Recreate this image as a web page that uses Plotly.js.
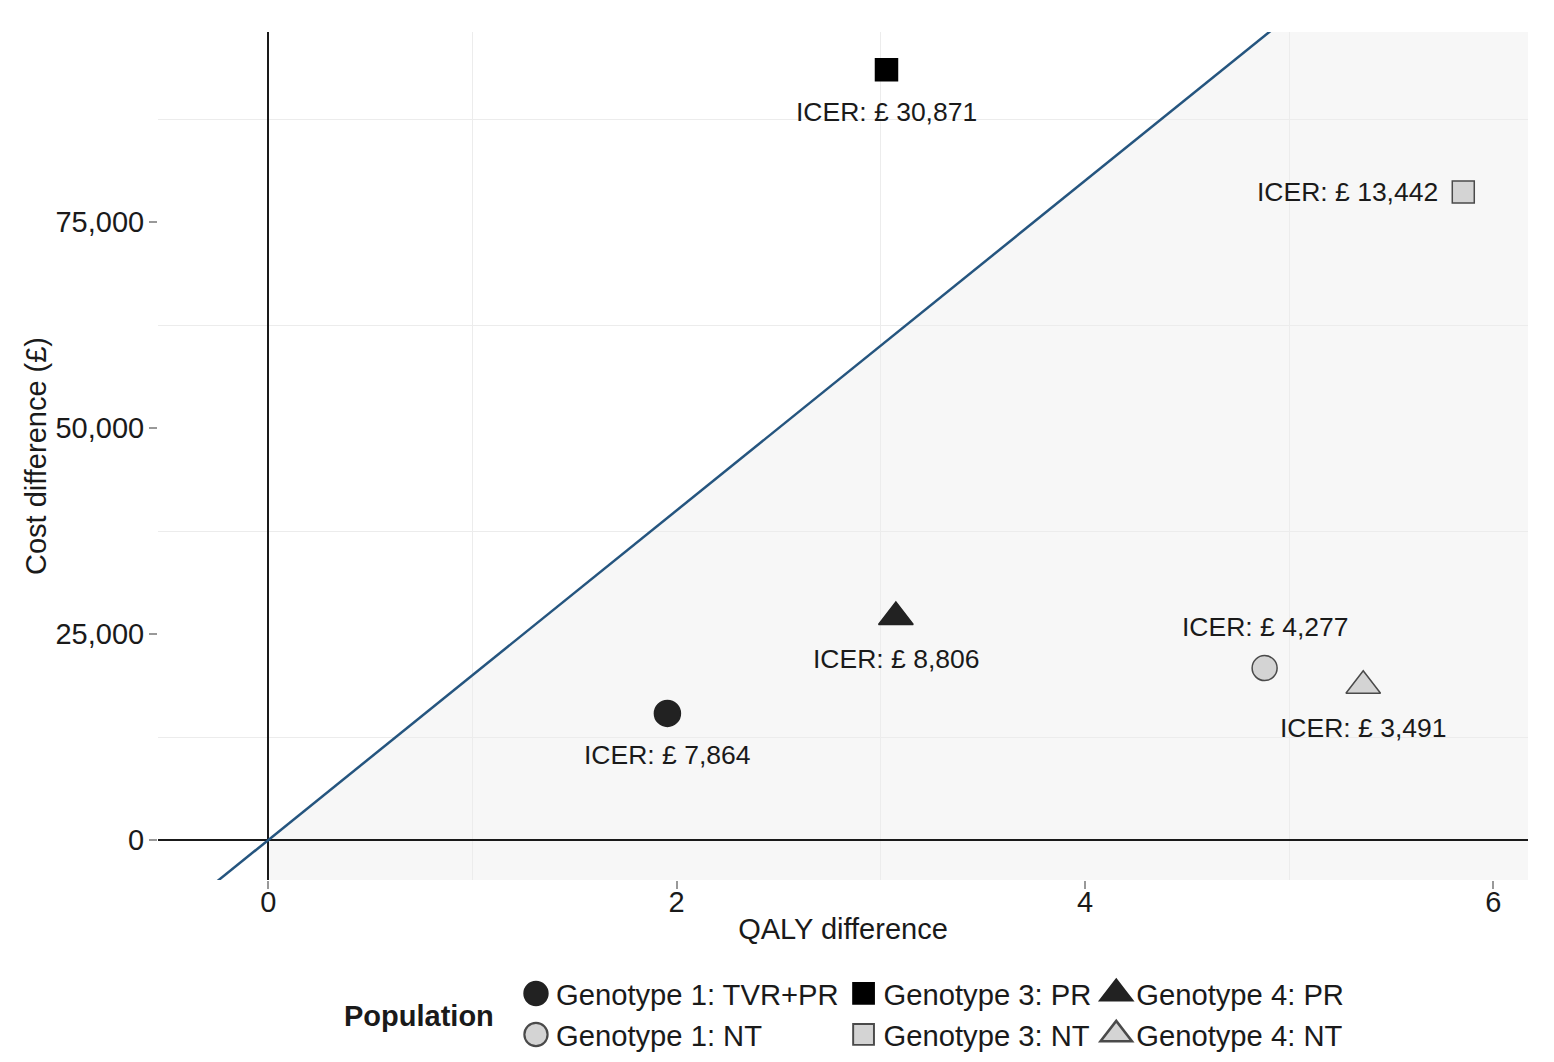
<!DOCTYPE html>
<html><head><meta charset="utf-8">
<script src="https://cdn.plot.ly/plotly-3.0.1.min.js"></script>
<style>html,body{margin:0;padding:0;background:#fff}#chart{width:1554px;height:1062px}</style>
</head><body><div id="chart"></div>
<script>
// ---- data ----
const populations = ['Genotype 1: TVR+PR','Genotype 1: NT','Genotype 3: PR','Genotype 3: NT','Genotype 4: PR','Genotype 4: NT'];
const legendGroups = ['g1','g1','g3','g3','g4','g4'];
const qalyDiff = [1.955, 4.88, 3.028, 5.853, 3.074, 5.363];
const costDiff = [15370, 20870, 93480, 78650, 27070, 18720];
const icerLabels = ['ICER: £ 7,864','ICER: £ 4,277','ICER: £ 30,871','ICER: £ 13,442','ICER: £ 8,806','ICER: £ 3,491'];
const wtpThreshold = 20000;
const xRange = [-0.54, 6.17];
const yRange = [-4850, 98060];
const xTickVals = [0, 2, 4, 6];
const xTickText = ['0', '2', '4', '6'];
const yTickVals = [0, 25000, 50000, 75000];
const yTickText = ['0', '25,000', '50,000', '75,000'];
const legendTitle = 'Population';

// ---- styles ----
const symbols = ['circle','circle','square','square','triangle-up','triangle-up'];
const fills = ['#222222','#d4d4d4','#000000','#d4d4d4','#222222','#d4d4d4'];
const outlines = ['#222222','#4a4a4a','#000000','#4a4a4a','#222222','#4a4a4a'];
const sizes = [26, 25, 22, 22, 30, 30];
const labelPlacement = ['below','above','below','left','below','below'];
const FONT = 'Liberation Sans, Arial, sans-serif';

const traces = [];
traces.push({
  x: xRange, y: xRange.map(v => v * wtpThreshold),
  mode: 'lines', line: {color: '#25557f', width: 2.5},
  showlegend: false, hoverinfo: 'skip'
});
populations.forEach((p, i) => {
  traces.push({
    x: [qalyDiff[i]], y: [costDiff[i]], name: p, legendgroup: legendGroups[i],
    mode: 'markers', type: 'scatter',
    marker: {symbol: symbols[i], size: sizes[i], color: fills[i], line: {color: outlines[i], width: 1.5}}
  });
});

const annotations = populations.map((p, i) => {
  const a = {x: qalyDiff[i], y: costDiff[i], text: icerLabels[i], showarrow: false,
    font: {family: FONT, size: 26.5, color: '#1a1a1a'}, xanchor: 'center', yanchor: 'middle'};
  if (labelPlacement[i] === 'below') a.yshift = -42;
  else if (labelPlacement[i] === 'above') a.yshift = 41;
  else { a.xanchor = 'right'; a.xshift = -23; }
  return a;
});
annotations.push({
  xref: 'paper', yref: 'paper', x: 0.2465, y: -0.1604, xanchor: 'right', yanchor: 'middle',
  text: '<b>' + legendTitle + '</b>', showarrow: false, font: {family: FONT, size: 29, color: '#1a1a1a'}
});

const ymaxX = yRange[1] / wtpThreshold;
const shadePath = `M0,${yRange[0]} L0,0 L${ymaxX},${yRange[1]} L${xRange[1]},${yRange[1]} L${xRange[1]},${yRange[0]} Z`;

const layout = {
  width: 1554, height: 1062,
  margin: {l: 158, r: 26, t: 32, b: 182},
  paper_bgcolor: '#ffffff', plot_bgcolor: '#ffffff',
  font: {family: FONT, color: '#1a1a1a'},
  showlegend: true,
  xaxis: {
    range: xRange, tickmode: 'array', tickvals: xTickVals, ticktext: xTickText,
    showgrid: false, zeroline: true, zerolinecolor: '#1a1a1a', zerolinewidth: 2,
    ticks: 'outside', ticklen: 8, tickwidth: 1.5, tickcolor: '#999999',
    tickfont: {size: 29, color: '#1a1a1a'}, ticklabelstandoff: -12,
    minor: {tickmode: 'linear', tick0: 1, dtick: 2, showgrid: true, gridcolor: '#ececec', gridwidth: 1, ticks: ''},
    title: {text: 'QALY difference', font: {size: 29, color: '#1a1a1a'}, standoff: 1},
    showline: false, fixedrange: true, automargin: false
  },
  yaxis: {
    range: yRange, tickmode: 'array', tickvals: yTickVals, ticktext: yTickText,
    showgrid: false, zeroline: true, zerolinecolor: '#1a1a1a', zerolinewidth: 2,
    ticks: 'outside', ticklen: 8, tickwidth: 1.5, tickcolor: '#999999',
    tickfont: {size: 29, color: '#1a1a1a'}, ticklabelstandoff: -1,
    minor: {tickmode: 'linear', tick0: 12500, dtick: 25000, showgrid: true, gridcolor: '#ececec', gridwidth: 1, ticks: ''},
    title: {text: 'Cost difference (£)', font: {size: 29, color: '#1a1a1a'}, standoff: 0},
    showline: false, fixedrange: true, automargin: false
  },
  shapes: [{type: 'path', xref: 'x', yref: 'y', path: shadePath, fillcolor: '#f7f7f7', line: {width: 0}, layer: 'below'}],
  annotations: annotations,
  legend: {
    orientation: 'h', xref: 'paper', x: 0.2613, xanchor: 'left',
    yref: 'container', y: 0.0885, yanchor: 'top',
    font: {size: 29.2, color: '#1a1a1a'}, traceorder: 'grouped', tracegroupgap: 0,
    itemwidth: 30, bgcolor: 'rgba(0,0,0,0)'
  }
};

Plotly.newPlot('chart', traces, layout, {displayModeBar: false, responsive: false}).then(gd => {
  gd.querySelectorAll('.legend .legendpoints path.scatterpts').forEach(p => {
    const d = p.getAttribute('d') || '';
    const isTri = d.indexOf('L0,-') >= 0;
    const isSq = /^M[\d.]+,[\d.]+H-/.test(d);
    const k = isTri ? 1.7 : (isSq ? 1.3 : 1.45);
    p.setAttribute('transform', (p.getAttribute('transform') || '') + ' scale(' + k + ')');
  });
});
</script></body></html>
